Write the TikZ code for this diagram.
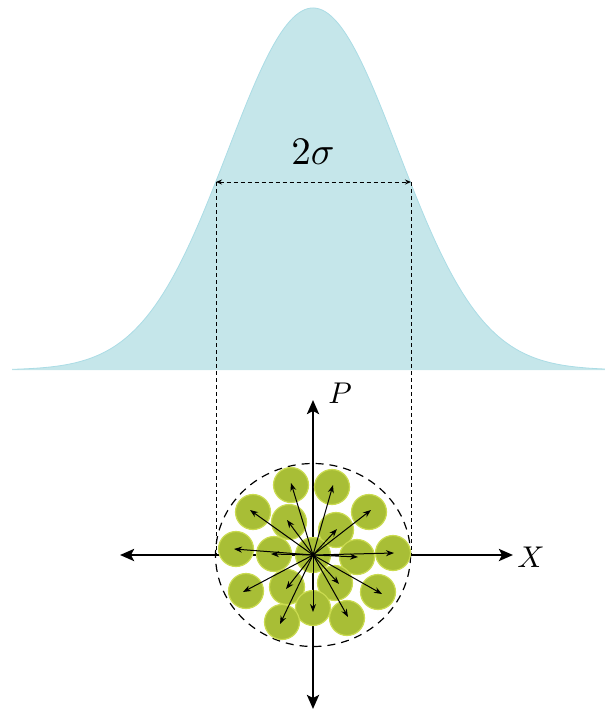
\documentclass[tikz,border=0pt]{standalone}
\usetikzlibrary{arrows.meta}
\definecolor{curvefill}{HTML}{C5E6EA}
\definecolor{curveedge}{HTML}{ABDCE5}
\definecolor{ballfill}{HTML}{A8BE36}
\definecolor{balledge}{HTML}{CADB50}
\tikzset{
  ball/.style={circle, fill=ballfill, draw=balledge, line width=1.2pt, minimum size=35pt, inner sep=0pt},
  vec/.style={line width=1pt, -{Stealth[length=8pt,width=6pt]}},
  axis/.style={line width=2.6pt, {Stealth[length=14pt,width=12pt,inset=3pt]}-{Stealth[length=14pt,width=12pt,inset=3pt]}},
  guide/.style={line width=1pt, dash pattern=on 4pt off 3pt},
  widtharrow/.style={line width=1pt, dash pattern=on 4pt off 3pt, {Stealth[length=6pt,width=5pt]}-{Stealth[length=6pt,width=5pt]}},
  ring/.style={line width=1.2pt, dash pattern=on 8pt off 6pt},
}
\begin{document}
\begin{tikzpicture}[x=1pt,y=-1pt]
\useasboundingbox (0,0) rectangle (605,710);
% Gaussian
\fill[curvefill] (12,370) -- plot[domain=-3.54:3.447,samples=200,smooth] ({\x*85+313},{370-362*exp(-\x*\x/2)}) -- (605,370) -- cycle;
\draw[curveedge,line width=0.8pt] plot[domain=-3.54:3.447,samples=200,smooth] ({\x*85+313},{370-362*exp(-\x*\x/2)});
\node[scale=3.9] (sig) at (313,152) {$2\sigma$};
% guides
\coordinate (gl) at (216,182);
\coordinate (gr) at (411,182);
\coordinate (bl) at (216,555);
\coordinate (br) at (411,555);
\draw[guide] (gl) -- (bl);
\draw[guide] (gr) -- (br);
\draw[widtharrow] (gl) -- (gr);
% axes
\coordinate (o) at (313,555);
\coordinate (xl) at (120,555);
\coordinate (xr) at (513,555);
\coordinate (pt) at (313,400);
\coordinate (pb) at (313,709);
\draw[axis] (xl) -- (xr);
\draw[axis] (pb) -- (pt);
\node[scale=3] (xlab) at (531,557) {$X$};
\node[scale=3] (plab) at (340,393) {$P$};
% dashed ring
\draw[ring] (o) ellipse [x radius=97.5, y radius=91.5];
% balls
\node[ball] (g1) at (291,485) {};
\node[ball] (g2) at (332,487) {};
\node[ball] (g3) at (253,512) {};
\node[ball] (g4) at (369,512) {};
\node[ball] (g5) at (289,522) {};
\node[ball] (g6) at (336,530) {};
\node[ball] (g7) at (236,549) {};
\node[ball] (g8) at (274,554) {};
\node[ball] (g9) at (313,555) {};
\node[ball] (g10) at (357,557) {};
\node[ball] (g11) at (393,553) {};
\node[ball] (g12) at (246,591) {};
\node[ball] (g13) at (287,587) {};
\node[ball] (g14) at (335,583) {};
\node[ball] (g15) at (378,592) {};
\node[ball] (g16) at (313,608) {};
\node[ball] (g17) at (282,622) {};
\node[ball] (g18) at (347,618) {};
% momentum vectors
\foreach \n/\ex/\ey in {a1/291/483, a2/333/485, a3/250/510, a4/371/510, a5/287/520, a6/337/529,
  a7/234/549, a8/271/554, a9/358/557, a10/394/553, a11/243/592, a12/286/589, a13/339/584,
  a14/382/594, a15/313/612, a16/280/624, a17/348/617}{
  \coordinate (\n) at (\ex,\ey);
  \draw[vec] (o) -- (\n);
}
\end{tikzpicture}
\end{document}
